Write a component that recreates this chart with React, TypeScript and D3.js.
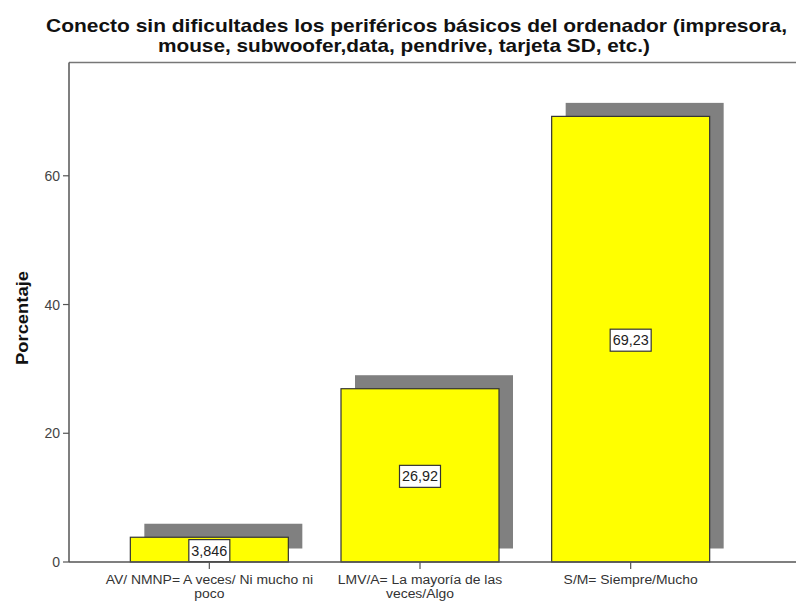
import React from "react";
import * as d3 from "d3";

const categories = [
  ["AV/ NMNP= A veces/ Ni mucho ni", "poco"],
  ["LMV/A= La mayoría de las", "veces/Algo"],
  ["S/M= Siempre/Mucho"],
];
const values = [3.846, 26.92, 69.23];
const valueLabels = ["3,846", "26,92", "69,23"];
const yTicks = [0, 20, 40, 60];
const titleLines = [
  "Conecto sin dificultades los periféricos básicos  del ordenador (impresora,",
  "mouse, subwoofer,data, pendrive, tarjeta SD, etc.)",
];

const W = 796;
const H = 602;
const left = 69;
const right = 796;
const top = 62.5;
const bottom = 562;

export default function App() {
  const ids = categories.map((_, i) => String(i));
  const x = d3
    .scaleBand<string>()
    .domain(ids)
    .range([104, 736])
    .paddingInner(0.25)
    .paddingOuter(0.125);
  const y = d3.scaleLinear().domain([0, 77.6]).range([bottom, top]);
  const dx = 14;
  const dy = -13.5;
  const font = "'Liberation Sans', Arial, sans-serif";

  return (
    <svg
      width={W}
      height={H}
      style={{ position: "absolute", left: 0, top: 0, background: "#fff" }}
      fontFamily={font}
    >
      <rect x={0} y={0} width={W} height={H} fill="#fff" />
      {/* title */}
      <text x={46} y={31.5} fontSize={19} fontWeight="bold" fill="#111" textLength={741} lengthAdjust="spacingAndGlyphs">
        {titleLines[0]}
      </text>
      <text x={158} y={52} fontSize={19} fontWeight="bold" fill="#111" textLength={492} lengthAdjust="spacingAndGlyphs">
        {titleLines[1]}
      </text>

      {/* frame */}
      <line x1={left} x2={right} y1={top} y2={top} stroke="#777" strokeWidth={1.5} />
      <line x1={left} x2={left} y1={top} y2={bottom} stroke="#555" strokeWidth={1.5} />

      {/* shadows */}
      {values.map((v, i) => (
        <rect
          key={"s" + i}
          x={(x(ids[i]) as number) + dx}
          y={y(v) + dy}
          width={x.bandwidth()}
          height={bottom - y(v)}
          fill="#808080"
        />
      ))}
      {/* bars */}
      {values.map((v, i) => (
        <rect
          key={"b" + i}
          x={x(ids[i]) as number}
          y={y(v)}
          width={x.bandwidth()}
          height={bottom - y(v)}
          fill="#ffff00"
          stroke="#333"
          strokeWidth={1.2}
        />
      ))}
      {/* value labels */}
      {values.map((v, i) => {
        const cx = (x(ids[i]) as number) + x.bandwidth() / 2;
        const cy = (y(v) + bottom) / 2 + 1;
        return (
          <g key={"l" + i}>
            <rect x={cx - 20.5} y={cy - 11} width={41} height={22} fill="#fff" stroke="#333" strokeWidth={1.2} />
            <text x={cx} y={cy + 5} fontSize={14} textAnchor="middle" fill="#222" textLength={36} lengthAdjust="spacingAndGlyphs">
              {valueLabels[i]}
            </text>
          </g>
        );
      })}

      {/* x axis */}
      <line x1={left} x2={right} y1={bottom} y2={bottom} stroke="#555" strokeWidth={1.5} />
      {ids.map((id, i) => {
        const cx = (x(id) as number) + x.bandwidth() / 2;
        return (
          <g key={"x" + i}>
            <line x1={cx} x2={cx} y1={bottom} y2={bottom + 7} stroke="#555" strokeWidth={1.2} />
            <g transform={`translate(${cx},0) scale(1.16,1)`}>
              {categories[i].map((t, j) => (
                <text key={j} x={0} y={584 + j * 14} fontSize={12} textAnchor="middle" fill="#333">
                  {t}
                </text>
              ))}
            </g>
          </g>
        );
      })}

      {/* y axis */}
      {yTicks.map((t) => (
        <g key={"y" + t}>
          <line x1={left - 6} x2={left} y1={y(t)} y2={y(t)} stroke="#555" strokeWidth={1.2} />
          <text x={left - 9} y={y(t) + 5} fontSize={14} textAnchor="end" fill="#444">
            {t}
          </text>
        </g>
      ))}
      <text
        transform={`translate(28, 318) rotate(-90)`}
        fontSize={17}
        fontWeight="bold"
        textAnchor="middle"
        fill="#111"
        textLength={94}
        lengthAdjust="spacingAndGlyphs"
      >
        Porcentaje
      </text>
    </svg>
  );
}
